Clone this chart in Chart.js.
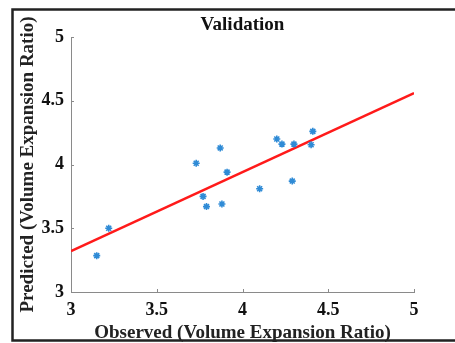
<!DOCTYPE html>
<html>
<head>
<meta charset="utf-8">
<script src="https://cdn.jsdelivr.net/npm/chart.js@4"></script>
<style>
  html, body { margin: 0; padding: 0; background: #fff; overflow: hidden; }
  canvas { display: block; }
</style>
</head>
<body>
<canvas id="validation-chart" width="455" height="343"></canvas>
<script>
// valores
var observed  = [3.15, 3.22, 3.73, 3.87, 3.91, 3.77, 3.79, 3.88, 4.10, 4.20, 4.23, 4.30, 4.29, 4.41, 4.40];
var predicted = [3.285, 3.50, 4.01, 4.13, 3.94, 3.75, 3.67, 3.69, 3.81, 4.20, 4.16, 4.16, 3.87, 4.26, 4.155];
var fitX = [3, 5];
var fitY = [3.32, 4.56];
var xTicks = [3, 3.5, 4, 4.5, 5];
var yTicks = [3, 3.5, 4, 4.5, 5];

var serif = "'Liberation Serif', 'Times New Roman', serif";

// marco negro de la figura (sin borde derecho, recortado)
var frame = {
    id: 'frame',
    beforeDraw: function(chart) {
        var c = chart.ctx;
        c.save();
        c.fillStyle = '#fff';
        c.fillRect(0, 0, chart.width, chart.height);
        c.strokeStyle = '#222';
        c.lineWidth = 2.5;
        c.beginPath();
        c.moveTo(chart.width + 5, 9.5);
        c.lineTo(12.5, 9.5);
        c.lineTo(12.5, 340.5);
        c.lineTo(chart.width + 5, 340.5);
        c.stroke();
        c.restore();
    }
};

// marcas de eje hacia dentro, como en MATLAB
var inwardTicks = {
    id: 'inwardTicks',
    afterDatasetsDraw: function(chart) {
        var c = chart.ctx, a = chart.chartArea;
        var xs = chart.scales.x, ys = chart.scales.y;
        c.save();
        c.strokeStyle = '#8a8a8a';
        c.lineWidth = 1;
        c.beginPath();
        xTicks.forEach(function(v) {
            var px = Math.round(xs.getPixelForValue(v)) + 0.5;
            c.moveTo(px, a.bottom); c.lineTo(px, a.bottom - 3);
        });
        yTicks.forEach(function(v) {
            var py = Math.round(ys.getPixelForValue(v)) + 0.5;
            c.moveTo(a.left, py); c.lineTo(a.left + 3, py);
        });
        c.stroke();
        c.restore();
    }
};

document.addEventListener('DOMContentLoaded', function() {
    var ctx = document.getElementById('validation-chart').getContext('2d');

    var data = {
        datasets: [{
            type: 'scatter',
            data: observed.map(function(x, i) { return { x: x, y: predicted[i] }; }),
            pointStyle: 'star',
            pointRadius: 3.5,
            borderColor: '#2f8bd6',
            backgroundColor: '#2f8bd6',
            pointBorderWidth: 1.6
        }, {
            type: 'line',
            data: fitX.map(function(x, i) { return { x: x, y: fitY[i] }; }),
            borderColor: '#ff1a1a',
            borderWidth: 2.5,
            pointRadius: 0,
            fill: false
        }]
    };

    var tickLabel = function(v) { return String(v); };

    var options = {
        responsive: false,
        animation: false,
        layout: { padding: { left: 17, right: 41, top: 12, bottom: 0 } },
        plugins: {
            legend: { display: false },
            tooltip: { enabled: false },
            title: {
                display: true,
                text: 'Validation',
                fullSize: false,
                color: '#111',
                font: { family: serif, size: 19, weight: 'bold', lineHeight: 1 },
                padding: { top: 4, bottom: 2 }
            }
        },
        scales: {
            x: {
                type: 'linear', min: 3, max: 5,
                afterBuildTicks: function(s) { s.ticks = xTicks.map(function(v) { return { value: v }; }); },
                afterFit: function(s) { s.height = 51; },
                grid: { display: false, drawTicks: false },
                border: { display: true, color: '#8a8a8a', width: 1 },
                ticks: { padding: 9, color: '#111', callback: tickLabel,
                         font: { family: serif, size: 18, weight: 'bold', lineHeight: 1 } },
                title: {
                    display: true, text: 'Observed (Volume Expansion Ratio)', color: '#222',
                    font: { family: serif, size: 19, weight: 'bold', lineHeight: 1 }, padding: 0
                }
            },
            y: {
                type: 'linear', min: 3, max: 5,
                afterBuildTicks: function(s) { s.ticks = yTicks.map(function(v) { return { value: v }; }); },
                afterFit: function(s) { s.width = 54; },
                grid: { display: false, drawTicks: false },
                border: { display: true, color: '#8a8a8a', width: 1 },
                ticks: { padding: 7, color: '#111', callback: tickLabel,
                         font: { family: serif, size: 18, weight: 'bold' } },
                title: {
                    display: true, text: 'Predicted (Volume Expansion Ratio)', color: '#222',
                    font: { family: serif, size: 19, weight: 'bold' }, padding: 0
                }
            }
        }
    };

    new Chart(ctx, { data: data, options: options, plugins: [frame, inwardTicks] });
});
</script>
</body>
</html>
